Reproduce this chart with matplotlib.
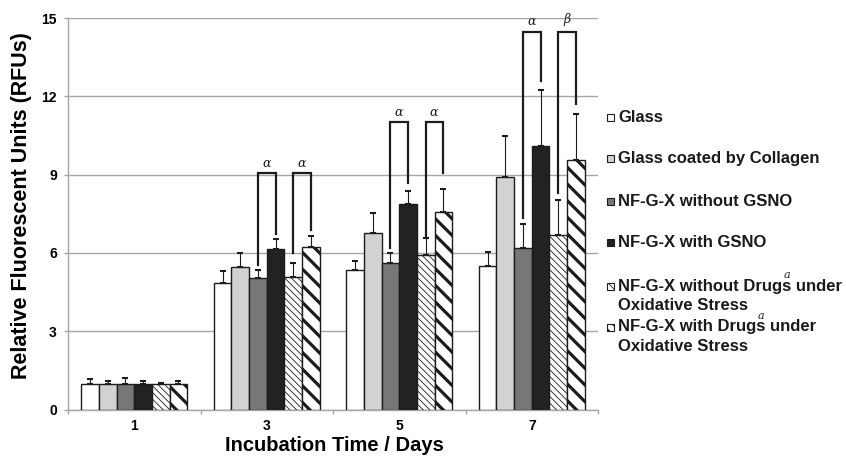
import numpy as np
import matplotlib.pyplot as plt
from matplotlib.patches import Rectangle

plt.rcParams['font.family'] = ['Liberation Sans', 'DejaVu Sans']
plt.rcParams['mathtext.fontset'] = 'dejavuserif'

# ---- data ----
days = ["1", "3", "5", "7"]
labels = ["Glass",
          "Glass coated by Collagen",
          "NF-G-X without GSNO",
          "NF-G-X with GSNO",
          "NF-G-X without Drugs under\nOxidative Stress",
          "NF-G-X with Drugs under\nOxidative Stress"]
# footnote mark put over the word "Drugs" in the last two entries
footnote_after = [None, None, None, None, "NF-G-X without Drugs", "NF-G-X with Drugs"]

glass = [0.98, 4.86, 5.34, 5.50]
glass_err = [0.18, 0.44, 0.35, 0.52]
collagen = [0.98, 5.45, 6.75, 8.92]
collagen_err = [0.11, 0.53, 0.77, 1.56]
nfgx_no_gsno = [0.98, 5.04, 5.63, 6.18]
nfgx_no_gsno_err = [0.22, 0.30, 0.35, 0.92]
nfgx_gsno = [0.98, 6.14, 7.86, 10.08]
nfgx_gsno_err = [0.11, 0.38, 0.52, 2.18]
nfgx_no_drug_ox = [0.98, 5.09, 5.92, 6.69]
nfgx_no_drug_ox_err = [0.03, 0.51, 0.64, 1.34]
nfgx_drug_ox = [0.98, 6.24, 7.58, 9.56]
nfgx_drug_ox_err = [0.11, 0.41, 0.86, 1.76]

values = [glass, collagen, nfgx_no_gsno, nfgx_gsno, nfgx_no_drug_ox, nfgx_drug_ox]
errors = [glass_err, collagen_err, nfgx_no_gsno_err, nfgx_gsno_err,
          nfgx_no_drug_ox_err, nfgx_drug_ox_err]

# significance brackets: day index, pair of series, top, leg ends, label
bracket_day = [1, 1, 2, 2, 3, 3]
bracket_pair = [(2, 3), (4, 5), (2, 3), (4, 5), (2, 3), (4, 5)]
bracket_top = [9.05, 9.05, 11.0, 11.0, 14.48, 14.48]
bracket_left_end = [5.54, 5.98, 6.18, 6.60, 7.35, 8.30]
bracket_right_end = [6.72, 6.88, 8.67, 9.05, 12.58, 11.70]
bracket_label = [r"$\alpha$", r"$\alpha$", r"$\alpha$", r"$\alpha$", r"$\alpha$", r"$\beta$"]

# ---- styles ----
facecolors = ["white", "#d2d2d2", "#777777", "#222222", "white", "white"]
hatches = [None, None, None, None, "\\\\\\\\\\", "\\\\"]
hatch_lws = [1.0, 1.0, 1.0, 1.0, 0.6, 2.3]
leg_hatches = [None, None, None, None, "\\\\\\\\", "\\\\\\"]
leg_hatch_lws = [1.0, 1.0, 1.0, 1.0, 0.6, 1.6]
edge = "#1c1c1c"

W, H = 846, 457
fig = plt.figure(figsize=(W / 100, H / 100), dpi=100)
ax = fig.add_axes([68 / W, 47.5 / H, 530 / W, 391.5 / H])

x = np.arange(len(days))
width = 0.1333
n = len(values)

for i in range(n):
    pos = x + (i - (n - 1) / 2) * width
    with plt.rc_context({'hatch.linewidth': hatch_lws[i]}):
        bars = ax.bar(pos, values[i], width, color=facecolors[i], edgecolor=edge,
                      linewidth=1.0, hatch=hatches[i], zorder=3)
    for b in bars:
        if hasattr(b, "set_hatch_linewidth"):
            b.set_hatch_linewidth(hatch_lws[i])
    ax.errorbar(pos, values[i], yerr=[np.zeros(len(days)), errors[i]], fmt='none',
                ecolor=edge, elinewidth=0.8, capsize=2.0, capthick=1.5, zorder=4)

for d, (a, b), top, le, re, lab in zip(bracket_day, bracket_pair, bracket_top,
                                        bracket_left_end, bracket_right_end, bracket_label):
    xa = x[d] + (a - (n - 1) / 2) * width
    xb = x[d] + (b - (n - 1) / 2) * width
    ax.plot([xa, xa, xb, xb], [le, top, top, re], color=edge, lw=1.6,
            solid_joinstyle='miter', zorder=5)
    ax.text((xa + xb) / 2, top + 0.12, lab, ha='center', va='bottom',
            fontsize=9, color=edge, zorder=5)

ax.set_xlim(-0.5, 3.5)
ax.set_ylim(0, 15)
ax.set_yticks([0, 3, 6, 9, 12, 15])
ax.yaxis.grid(True, color="#a6a6a6", lw=1.0, zorder=0)
ax.set_axisbelow(True)

ax.set_xticks(np.arange(-0.5, 3.6, 1.0))
ax.set_xticklabels([])
ax.set_xticks(x, minor=True)
ax.set_xticklabels(days, minor=True)
ax.tick_params(axis='x', which='major', length=3, color="#a6a6a6", width=1.0)
ax.tick_params(axis='x', which='minor', length=0, pad=6.5, labelsize=10)
ax.tick_params(axis='y', length=3, color="#a6a6a6", width=1.0, pad=5, labelsize=10)
for t in ax.get_xticklabels(minor=True) + ax.get_yticklabels():
    t.set_fontweight('bold')

for s in ["top", "right"]:
    ax.spines[s].set_visible(False)
for s in ["left", "bottom"]:
    ax.spines[s].set_color("#a6a6a6")
    ax.spines[s].set_linewidth(1.0)

ax.set_ylabel("Relative Fluorescent Units (RFUs)", fontsize=15.5, fontweight='bold')
ax.yaxis.set_label_coords(-0.068, 0.522)
ax.set_xlabel("Incubation Time / Days", fontsize=14.5, fontweight='bold')
ax.xaxis.set_label_coords(0.502, -0.068)
ax.xaxis.label.set_va('top')

# ---- legend, drawn by hand to keep Excel-like spacing ----
renderer = fig.canvas.get_renderer()
leg_y = [117, 158, 201, 243, 286, 327]
leg_font = dict(fontsize=12, fontweight='bold', color="#1a1a1a")
for i, lab in enumerate(labels):
    yc = 1 - leg_y[i] / H
    with plt.rc_context({'hatch.linewidth': leg_hatch_lws[i]}):
        sq = Rectangle((607 / W, yc - 3.5 / H), 7 / W, 7 / H, transform=fig.transFigure,
                       facecolor=facecolors[i], edgecolor=edge, lw=0.8,
                       hatch=leg_hatches[i])
    if hasattr(sq, "set_hatch_linewidth"):
        sq.set_hatch_linewidth(leg_hatch_lws[i])
    fig.patches.append(sq)
    for k, line in enumerate(lab.split("\n")):
        fig.text(618 / W, yc - k * 19.5 / H, line, ha='left', va='center', **leg_font)
    if footnote_after[i]:
        probe = fig.text(618 / W, yc, footnote_after[i], ha='left', va='center', **leg_font)
        x_end = probe.get_window_extent(renderer).x1
        probe.remove()
        fig.text((x_end - 4) / W, yc + 6 / H, "$a$", ha='center', va='bottom',
                 fontsize=8, color="#1a1a1a")

fig.savefig("out.png", dpi=100)
